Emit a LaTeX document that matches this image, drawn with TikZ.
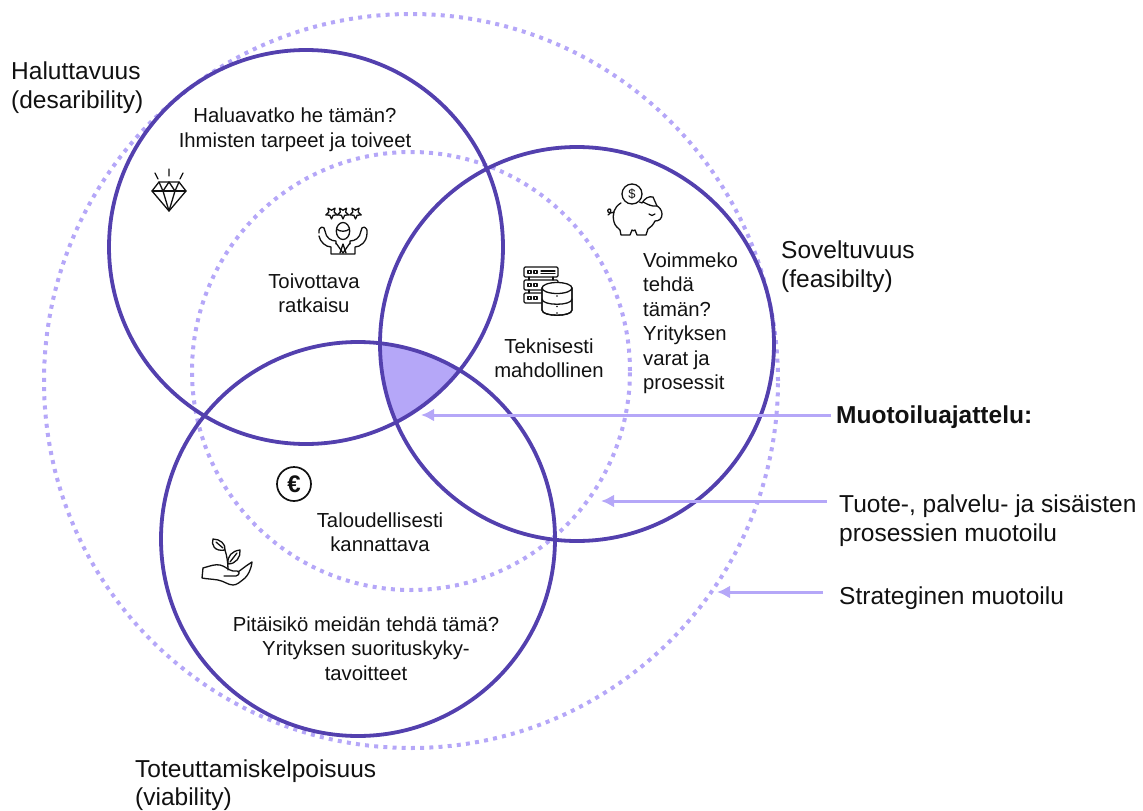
\documentclass[tikz,border=0pt]{standalone}
\usepackage{fontspec}
\setmainfont{Liberation Sans}
\definecolor{deep}{HTML}{5340AE}
\definecolor{soft}{HTML}{B5A7F8}
\definecolor{inkk}{HTML}{111111}
\tikzset{
  ring/.style={draw=deep,line width=3.8pt},
  dotring/.style={draw=soft,line width=4pt,dash pattern=on 4pt off 5.2pt},
  lab/.style={font=\fontsize{20.3}{24.5}\selectfont,align=center,inner sep=0pt,text=inkk},
  big/.style={font=\fontsize{24.5}{29}\selectfont,align=left,inner sep=0pt,text=inkk},
  point/.style={draw=soft,line width=3pt,-{Latex[length=13pt,width=13pt]}},
  icon/.style={draw=inkk,line width=1.3pt,line join=round,line cap=round,fill=none},
}
\usetikzlibrary{arrows.meta}
\begin{document}
\begin{tikzpicture}[x=1pt,y=-1pt]
\useasboundingbox (0,0) rectangle (1143,811);
% shaded centre
\begin{scope}
\clip (306,247) circle (197);
\clip (577,344) circle (197);
\fill[soft] (358,539) circle (197);
\end{scope}
% rings
\node[circle,dotring,minimum size=734pt,inner sep=0pt] (outer) at (411,381) {};
\node[circle,dotring,minimum size=438pt,inner sep=0pt] (inner) at (411,371) {};
\node[circle,ring,minimum size=394pt,inner sep=0pt] (des) at (306,247) {};
\node[circle,ring,minimum size=394pt,inner sep=0pt] (fea) at (577,344) {};
\node[circle,ring,minimum size=394pt,inner sep=0pt] (via) at (358,539) {};
% outer labels
\node[big,anchor=west] (a1) at (11,88) {Haluttavuus\\(desaribility)};
\node[big,anchor=west] (a2) at (781,267) {Soveltuvuus\\(feasibilty)};
\node[big,anchor=west,font=\fontsize{24.5}{28}\selectfont] (a3) at (135,785) {Toteuttamiskelpoisuus\\(viability)};
% inner labels
\node[lab] (t1) at (295,129.5) {Haluavatko he tämän?\\Ihmisten tarpeet ja toiveet};
\node[lab] (t2) at (314,293) {Toivottava\\ratkaisu};
\node[lab] (t3) at (549,358) {Teknisesti\\mahdollinen};
\node[lab,align=left,anchor=north west] (t4) at (643,252.5) {Voimmeko\\tehdä\\tämän?\\Yrityksen\\varat ja\\prosessit};
\node[lab] (t5) at (380,532) {Taloudellisesti\\kannattava};
\node[lab] (t6) at (366,648.5) {Pitäisikö meidän tehdä tämä?\\Yrityksen suorituskyky-\\tavoitteet};
% right labels
\node[big,anchor=west,font=\fontsize{24.5}{29}\selectfont\bfseries] (r1) at (836,417) {Muotoiluajattelu:};
\node[big,anchor=west] (r2) at (839,521) {Tuote-, palvelu- ja sisäisten\\prosessien muotoilu};
\node[big,anchor=west] (r3) at (839,598) {Strateginen muotoilu};
% arrows
\coordinate (p1) at (421,415);
\coordinate (p2) at (601,501);
\coordinate (p3) at (717,592);
\draw[point] (r1.west |- p1)++(-5,0) -- (p1);
\draw[point] (r2.west |- p2)++(-12,0) -- (p2);
\draw[point] (r3.west |- p3)++(-16,0) -- (p3);
% diamond
\begin{scope}[icon,shift={(169,191)}]
\draw (-17,0) -- (-10,-9) -- (10,-9) -- (17,0) -- (0,20) -- cycle;
\draw (-17,0) -- (17,0);
\draw (-10,-9) -- (-6,0) -- (0,-9) -- (6,0) -- (10,-9);
\draw (-6,0) -- (0,20) -- (6,0);
\draw (-14,-18) -- (-11,-12) (0,-22) -- (0,-15) (14,-18) -- (11,-12);
\end{scope}
% person with stars
\begin{scope}[icon,shift={(343,230)}]
\foreach \sx in {-11.5,0,12.5}{
 \draw[shift={(\sx,-17)}] (90:6) -- (126:2.8) -- (162:6) -- (198:2.8) -- (234:6) -- (270:2.8) -- (306:6) -- (342:2.8) -- (18:6) -- (54:2.8) -- cycle;
}
\draw (0,1) ellipse (6.7 and 8.5);
\draw (-6.5,-1) .. controls (-3,2) and (3,2) .. (6.5,-1);
\draw (-24,3) .. controls (-25,-4) and (-18,-5) .. (-18,1) .. controls (-17,8) and (-12,11) .. (-7,11) -- (-7,14) (7,14) -- (7,11) .. controls (12,11) and (17,8) .. (18,1) .. controls (18,-5) and (25,-4) .. (24,3) .. controls (24,12) and (17,17) .. (12,17) -- (12,24) -- (-12,24) -- (-12,17) .. controls (-17,17) and (-23,12) .. (-24,6);
\draw (-7,13) -- (0,23) -- (7,13);
\draw (-3,23) -- (0,14) -- (3,23);
\end{scope}
% piggy
\begin{scope}[icon,shift={(632,194)}]
\draw (0,0) circle (10);
\node[inner sep=0pt,font=\fontsize{13}{13}\selectfont,text=inkk] (dollar) at (0,0) {\$};
\draw (-11,9) .. controls (-18,13) and (-20,20) .. (-18,28) .. controls (-17,32) and (-14,34) .. (-12,36) -- (-11,41) -- (-2,41) -- (0,36) .. controls (1,37) and (2,37) .. (3,36) -- (5,41) -- (14,41) -- (16,35) .. controls (19,33) and (21,31) .. (23,27) .. controls (27,27) and (30,25) .. (30,20) .. controls (30,16) and (27,13) .. (25,12) -- (21,3) .. controls (17,2) and (13,4) .. (10,9) .. controls (7,8) and (8,8) .. (8,8);
\draw (11,8) .. controls (15,10) and (20,13) .. (25,12);
\draw (17,20) .. controls (19,22) and (21,22) .. (23,20);
\draw (-18,18) .. controls (-24,21) and (-26,16) .. (-23,15) .. controls (-20,14) and (-21,20) .. (-24,21);
\end{scope}
% server and database
\begin{scope}[icon,shift={(524,267)}]
\foreach \ry in {0,13,26}{
 \draw[rounded corners=1.2pt] (0,\ry) rectangle (34,\ry+10);
 \draw (4,\ry+3.5) rectangle (7,\ry+6.5) (10,\ry+3.5) rectangle (13,\ry+6.5);
}
\draw (17,4) -- (31,4) (17,6.5) -- (31,6.5);
\draw (5,10) -- (5,13) (29,10) -- (29,13) (5,23) -- (5,26);
\end{scope}
\begin{scope}[shift={(557,288)}]
\path[icon,fill=white] (-15,0) -- (-15,22) .. controls (-15,29) and (15,29) .. (15,22) -- (15,0) -- cycle;
\draw[icon,fill=white] (0,0) ellipse (15 and 5.5);
\draw[icon] (-15,11) .. controls (-15,18) and (15,18) .. (15,11);
\draw[icon] (-15,0) -- (-15,22) .. controls (-15,29) and (15,29) .. (15,22) -- (15,0);
\fill[inkk] (0,8) circle (0.8) (0,18.5) circle (0.8) (0,25) circle (0.8);
\end{scope}
% euro
\node[circle,draw=inkk,line width=1.7pt,minimum size=34pt,inner sep=0pt,font=\fontsize{24}{24}\selectfont\bfseries,text=inkk] (euro) at (294,484) {€};
% plant in hand
\begin{scope}[icon,shift={(202,538)}]
\draw (1,30) .. controls (8,28) and (13,26) .. (18,27) .. controls (23,28) and (26,32) .. (31,33) -- (35,33) .. controls (38,33) and (38,37) .. (34,38) -- (22,38);
\draw (36,34) -- (44,28) -- (50,24) .. controls (49,32) and (46,37) .. (43,40) .. controls (38,44) and (35,47) .. (31,47) .. controls (26,47) and (22,43) .. (16,42) .. controls (10,41) and (5,41) .. (0,40) -- (1,30);
\draw (26,32) .. controls (26,25) and (25,18) .. (23,12);
\draw (23,12) .. controls (24,6) and (18,1) .. (11,1) .. controls (9,6) and (12,14) .. (23,12);
\draw (14,4) -- (21,10);
\draw (26,26) .. controls (25,18) and (30,13) .. (38,12) .. controls (39,19) and (34,26) .. (26,26);
\draw (28,24) -- (35,15);
\end{scope}
\end{tikzpicture}
\end{document}
